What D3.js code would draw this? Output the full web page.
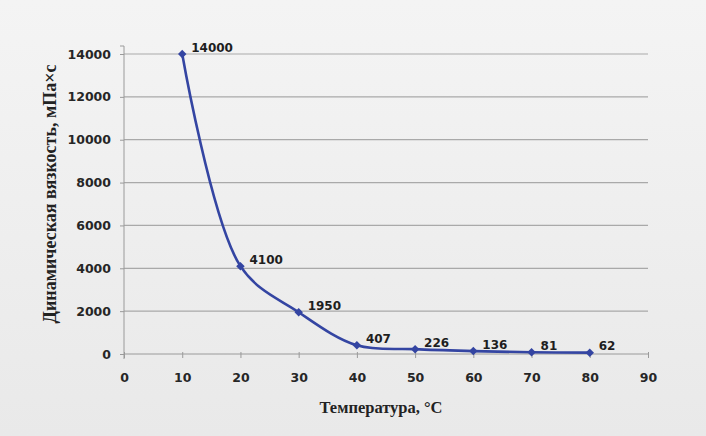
<!DOCTYPE html>
<html><head><meta charset="utf-8">
<script src="https://cdn.jsdelivr.net/npm/d3@7"></script>
<style>html,body{margin:0;padding:0;background:#eeeeee;}svg{display:block;}</style>
</head><body>
<svg id="c" width="706" height="436"></svg>
<script>
const temps = [10, 20, 30, 40, 50, 60, 70, 80];
const viscosity = [14000, 4100, 1950, 407, 226, 136, 81, 62];
const xTicks = [0, 10, 20, 30, 40, 50, 60, 70, 80, 90];
const yTicks = [0, 2000, 4000, 6000, 8000, 10000, 12000, 14000];
const xTitle = "Температура, °C";
const yTitle = "Динамическая вязкость, мПа×с";

const svg = d3.select("#c");
const W = 706, H = 436;
const m = {left: 124, right: 58, top: 54, bottom: 82};

const bg = svg.append("defs").append("linearGradient").attr("id","bg").attr("x1",0).attr("y1",0).attr("x2",0).attr("y2",1);
bg.append("stop").attr("offset","0%").attr("stop-color","#f4f4f4");
bg.append("stop").attr("offset","100%").attr("stop-color","#e9e9e9");
svg.append("rect").attr("width",W).attr("height",H).attr("fill","url(#bg)");

const x = d3.scaleLinear().domain([0, 90]).range([m.left, W - m.right]);
const y = d3.scaleLinear().domain([0, 14000]).range([H - m.bottom, m.top]);

// gridlines
svg.append("g").selectAll("line").data(yTicks.filter(d => d > 0)).join("line")
  .attr("x1", x(0)).attr("x2", x(90)).attr("y1", d => y(d)).attr("y2", d => y(d))
  .attr("stroke", "#a9a9a9").attr("stroke-width", 1.2);

const tickFont = "DejaVu Sans, sans-serif";

// y axis
const yAxis = svg.append("g").attr("transform", `translate(${x(0)},0)`)
  .call(d3.axisLeft(y).tickValues(yTicks).tickSize(4).tickPadding(9).tickFormat(d3.format("d")));
yAxis.select(".domain").attr("stroke", "#9a9a9a").attr("d", `M-4,${y(14000)-8}H0V${y(0)+5}`);
yAxis.selectAll(".tick line").attr("stroke", "#9a9a9a");
yAxis.selectAll("text").attr("font-family", tickFont).attr("font-weight", "bold")
  .attr("font-size", 12.5).attr("fill", "#262626");

// x axis
const xAxis = svg.append("g").attr("transform", `translate(0,${y(0)})`)
  .call(d3.axisBottom(x).tickValues(xTicks).tickSize(4).tickPadding(15).tickFormat(d3.format("d")));
xAxis.select(".domain").attr("stroke", "#9a9a9a").attr("d", `M${x(0)},0H${x(90)}`);
xAxis.selectAll(".tick line").attr("stroke", "#9a9a9a").attr("y1", -2);
xAxis.selectAll("text").attr("font-family", tickFont).attr("font-weight", "bold")
  .attr("font-size", 12.5).attr("fill", "#262626");

// line
const pts = temps.map((t, i) => [t, viscosity[i]]);
const line = d3.line().x(d => x(d[0])).y(d => y(d[1])).curve(d3.curveCatmullRom.alpha(0.5));
svg.append("path").attr("d", line(pts)).attr("fill", "none")
  .attr("stroke", "#3445a2").attr("stroke-width", 2.6).attr("stroke-linejoin", "round");

// markers
svg.append("g").selectAll("path").data(pts).join("path")
  .attr("d", d3.symbol().type(d3.symbolDiamond2).size(46))
  .attr("transform", d => `translate(${x(d[0])},${y(d[1])})`)
  .attr("fill", "#3445a2");

// data labels
svg.append("g").selectAll("text").data(pts).join("text")
  .attr("x", d => x(d[0]) + 9).attr("y", d => y(d[1]) - 6)
  .attr("dominant-baseline", "middle")
  .attr("font-family", tickFont).attr("font-weight", "bold").attr("font-size", 12)
  .attr("fill", "#1e1e1e").text(d => d[1]);

// axis titles
svg.append("text").attr("x", 381).attr("y", 409).attr("text-anchor", "middle")
  .attr("dominant-baseline", "middle")
  .attr("font-family", "Liberation Serif, serif").attr("font-weight", "bold").attr("font-size", 16.5)
  .attr("fill", "#222").text(xTitle);
svg.append("text").attr("transform", "translate(52,194) rotate(-90)").attr("text-anchor", "middle")
  .attr("dominant-baseline", "middle")
  .attr("font-family", "Liberation Serif, serif").attr("font-weight", "bold").attr("font-size", 18)
  .attr("fill", "#222").text(yTitle);
</script>
</body></html>
